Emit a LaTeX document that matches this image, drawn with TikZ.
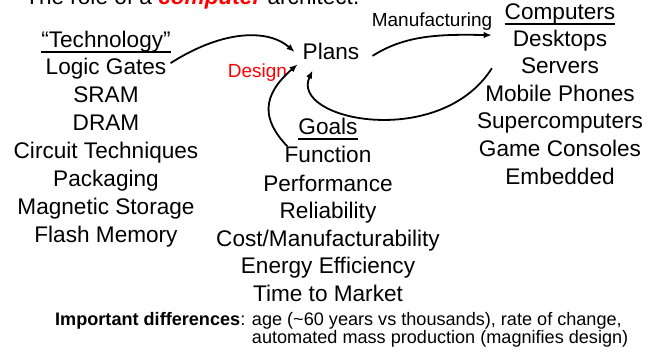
\documentclass[tikz,border=0pt]{standalone}
\usepackage{fontspec}
\setmainfont{Liberation Sans}
\usetikzlibrary{arrows.meta}
\definecolor{accent}{RGB}{255,0,0}

\tikzset{
  txt/.style={inner sep=0pt, anchor=base, font=\fontsize{22.6}{27}\selectfont},
  small/.style={inner sep=0pt, anchor=base, font=\fontsize{19}{22}\selectfont},
  note/.style={inner sep=0pt, anchor=base west, font=\fontsize{18.1}{18}\selectfont},
  uline/.style={line width=1.6pt},
  flow/.style={line width=1.8pt, -{Latex[length=8pt,width=6.5pt]}},
}

\begin{document}
\begin{tikzpicture}[x=1pt,y=-1pt]
\useasboundingbox (0,0) rectangle (663,358);

% heading line, partly above the page edge
\node[txt, anchor=base west] (title) at (25,5)
  {The role of a \textcolor{accent}{\bfseries\itshape computer} architect.};

% technology column
\node[txt] (tech) at (106,48) {“Technology”};
\node[txt] (t1) at (106,75)  {Logic Gates};
\node[txt] (t2) at (106,103) {SRAM};
\node[txt] (t3) at (106,131) {DRAM};
\node[txt] (t4) at (106,158) {Circuit Techniques};
\node[txt] (t5) at (106,186) {Packaging};
\node[txt] (t6) at (106,214) {Magnetic Storage};
\node[txt] (t7) at (106,242) {Flash Memory};

% plans and goals
\node[txt] (plans) at (331,60) {Plans};
\node[txt] (goals) at (328,135) {Goals};
\node[txt] (g1) at (328,163) {Function};
\node[txt] (g2) at (328,191) {Performance};
\node[txt] (g3) at (328,218) {Reliability};
\node[txt] (g4) at (328,246) {Cost/Manufacturability};
\node[txt] (g5) at (328,273) {Energy Efficiency};
\node[txt] (g6) at (328,301) {Time to Market};

% computers column
\node[txt] (comp) at (560,20) {Computers};
\node[txt] (c1) at (560,47)  {Desktops};
\node[txt] (c2) at (560,74)  {Servers};
\node[txt] (c3) at (560,102) {Mobile Phones};
\node[txt] (c4) at (560,129) {Supercomputers};
\node[txt] (c5) at (560,157) {Game Consoles};
\node[txt] (c6) at (560,184) {Embedded};

% arrow labels
\node[small] (manuf) at (432,27) {Manufacturing};
\node[small, text=accent] (design) at (257.5,78) {Design};

% headings are underlined
\foreach \h in {tech,goals,comp}
  \draw[uline] ([shift={(0,4)}]\h.base west) -- ([shift={(0,4)}]\h.base east);

% flows
\draw[flow] ([shift={(4,-6)}]t1.east)
  .. controls +(55,-35) and +(-25,-22) .. ([shift={(-8,0)}]plans.west);
\draw[flow] ([shift={(13,4)}]plans.east)
  .. controls +(33,-21) and +(-52,-1) .. ([shift={(-21,-6)}]c1.west);
\draw[flow] ([shift={(-29,2)}]c2.west)
  .. controls +(-52,82) and +(-23,50) .. ([shift={(10,10)}]plans.south west);
\draw[flow] ([shift={(3,0)}]g1.north west)
  .. controls +(-26,-27) and +(-36,31) .. ([shift={(-5,4)}]plans.south west);

% closing remark
\node[note] (remark) at (55,325)
  {\begin{tabular}[t]{@{}l@{ }l@{}}
     \textbf{Important differences}: & age (\textasciitilde60 years vs thousands), rate of change,\\
     & automated mass production (magnifies design)
   \end{tabular}};
\end{tikzpicture}
\end{document}
